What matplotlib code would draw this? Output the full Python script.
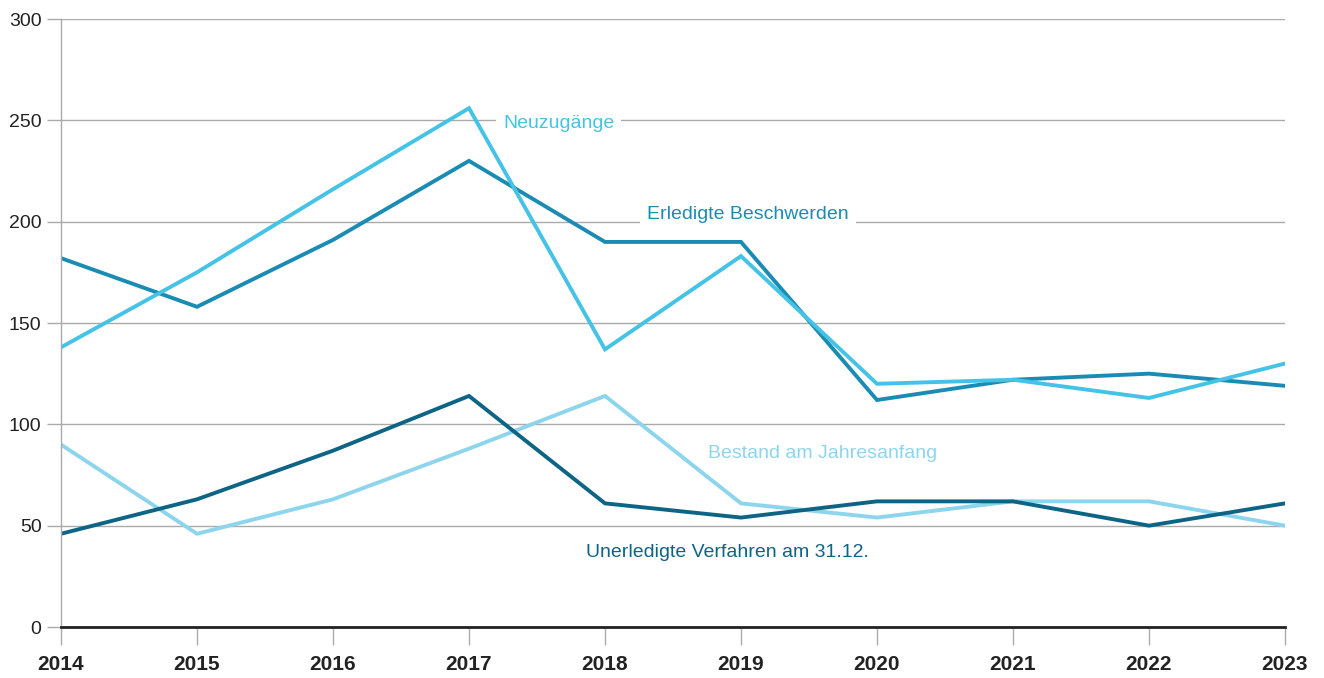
import matplotlib.pyplot as plt

plt.rcParams['font.family'] = ['Liberation Sans', 'DejaVu Sans']

jahre = [2014, 2015, 2016, 2017, 2018, 2019, 2020, 2021, 2022, 2023]
neuzugaenge = [138, 175, 216, 256, 137, 183, 120, 122, 113, 130]
erledigt = [182, 158, 191, 230, 190, 190, 112, 122, 125, 119]
bestand = [90, 46, 63, 88, 114, 61, 54, 62, 62, 50]
unerledigt = [46, 63, 87, 114, 61, 54, 62, 62, 50, 61]

c_neu = '#45c3e6'
c_erl = '#1a8cb3'
c_bes = '#8dd5ed'
c_une = '#0e6485'

fig = plt.figure(figsize=(13.24, 6.78), dpi=100)
ax = fig.add_axes([61/1324, 1-627/678, (1285-61)/1324, (627-19)/678])

ax.plot(jahre, bestand, color=c_bes, lw=2.8, solid_joinstyle='miter')
ax.plot(jahre, unerledigt, color=c_une, lw=2.8, solid_joinstyle='miter')
ax.plot(jahre, erledigt, color=c_erl, lw=2.8, solid_joinstyle='miter')
ax.plot(jahre, neuzugaenge, color=c_neu, lw=2.8, solid_joinstyle='miter')

ax.set_xlim(2014, 2023)
ax.set_ylim(0, 300)
ax.set_yticks(range(0, 301, 50))
ax.set_xticks(jahre)
ax.grid(axis='y', color='#aaaaaa', lw=1)
ax.set_axisbelow(True)

for s in ['top', 'right']:
    ax.spines[s].set_visible(False)
ax.spines['left'].set_color('#aaaaaa')
ax.spines['left'].set_linewidth(1)
ax.spines['bottom'].set_color('#222222')
ax.spines['bottom'].set_linewidth(2)
ax.spines['bottom'].set_zorder(5)

ax.tick_params(axis='y', length=10, color='#aaaaaa', width=1, labelsize=14,
               labelcolor='#222222', pad=4)
ax.tick_params(axis='x', length=13, color='#aaaaaa', width=1, labelsize=15,
               labelcolor='#222222', pad=7)
for lbl in ax.get_xticklabels():
    lbl.set_fontweight('bold')

box = dict(facecolor='white', edgecolor='none', pad=5)
ax.text(2017.25, 248.5, 'Neuzugänge', color=c_neu, fontsize=14, ha='left', va='center', bbox=box)
ax.text(2018.31, 203.5, 'Erledigte Beschwerden', color=c_erl, fontsize=14, ha='left', va='center', bbox=box)
ax.text(2018.76, 85.5, 'Bestand am Jahresanfang', color=c_bes, fontsize=14, ha='left', va='center', bbox=box)
ax.text(2017.86, 37, 'Unerledigte Verfahren am 31.12.', color=c_une, fontsize=14, ha='left', va='center', bbox=box)

fig.savefig('out.png', dpi=100)
